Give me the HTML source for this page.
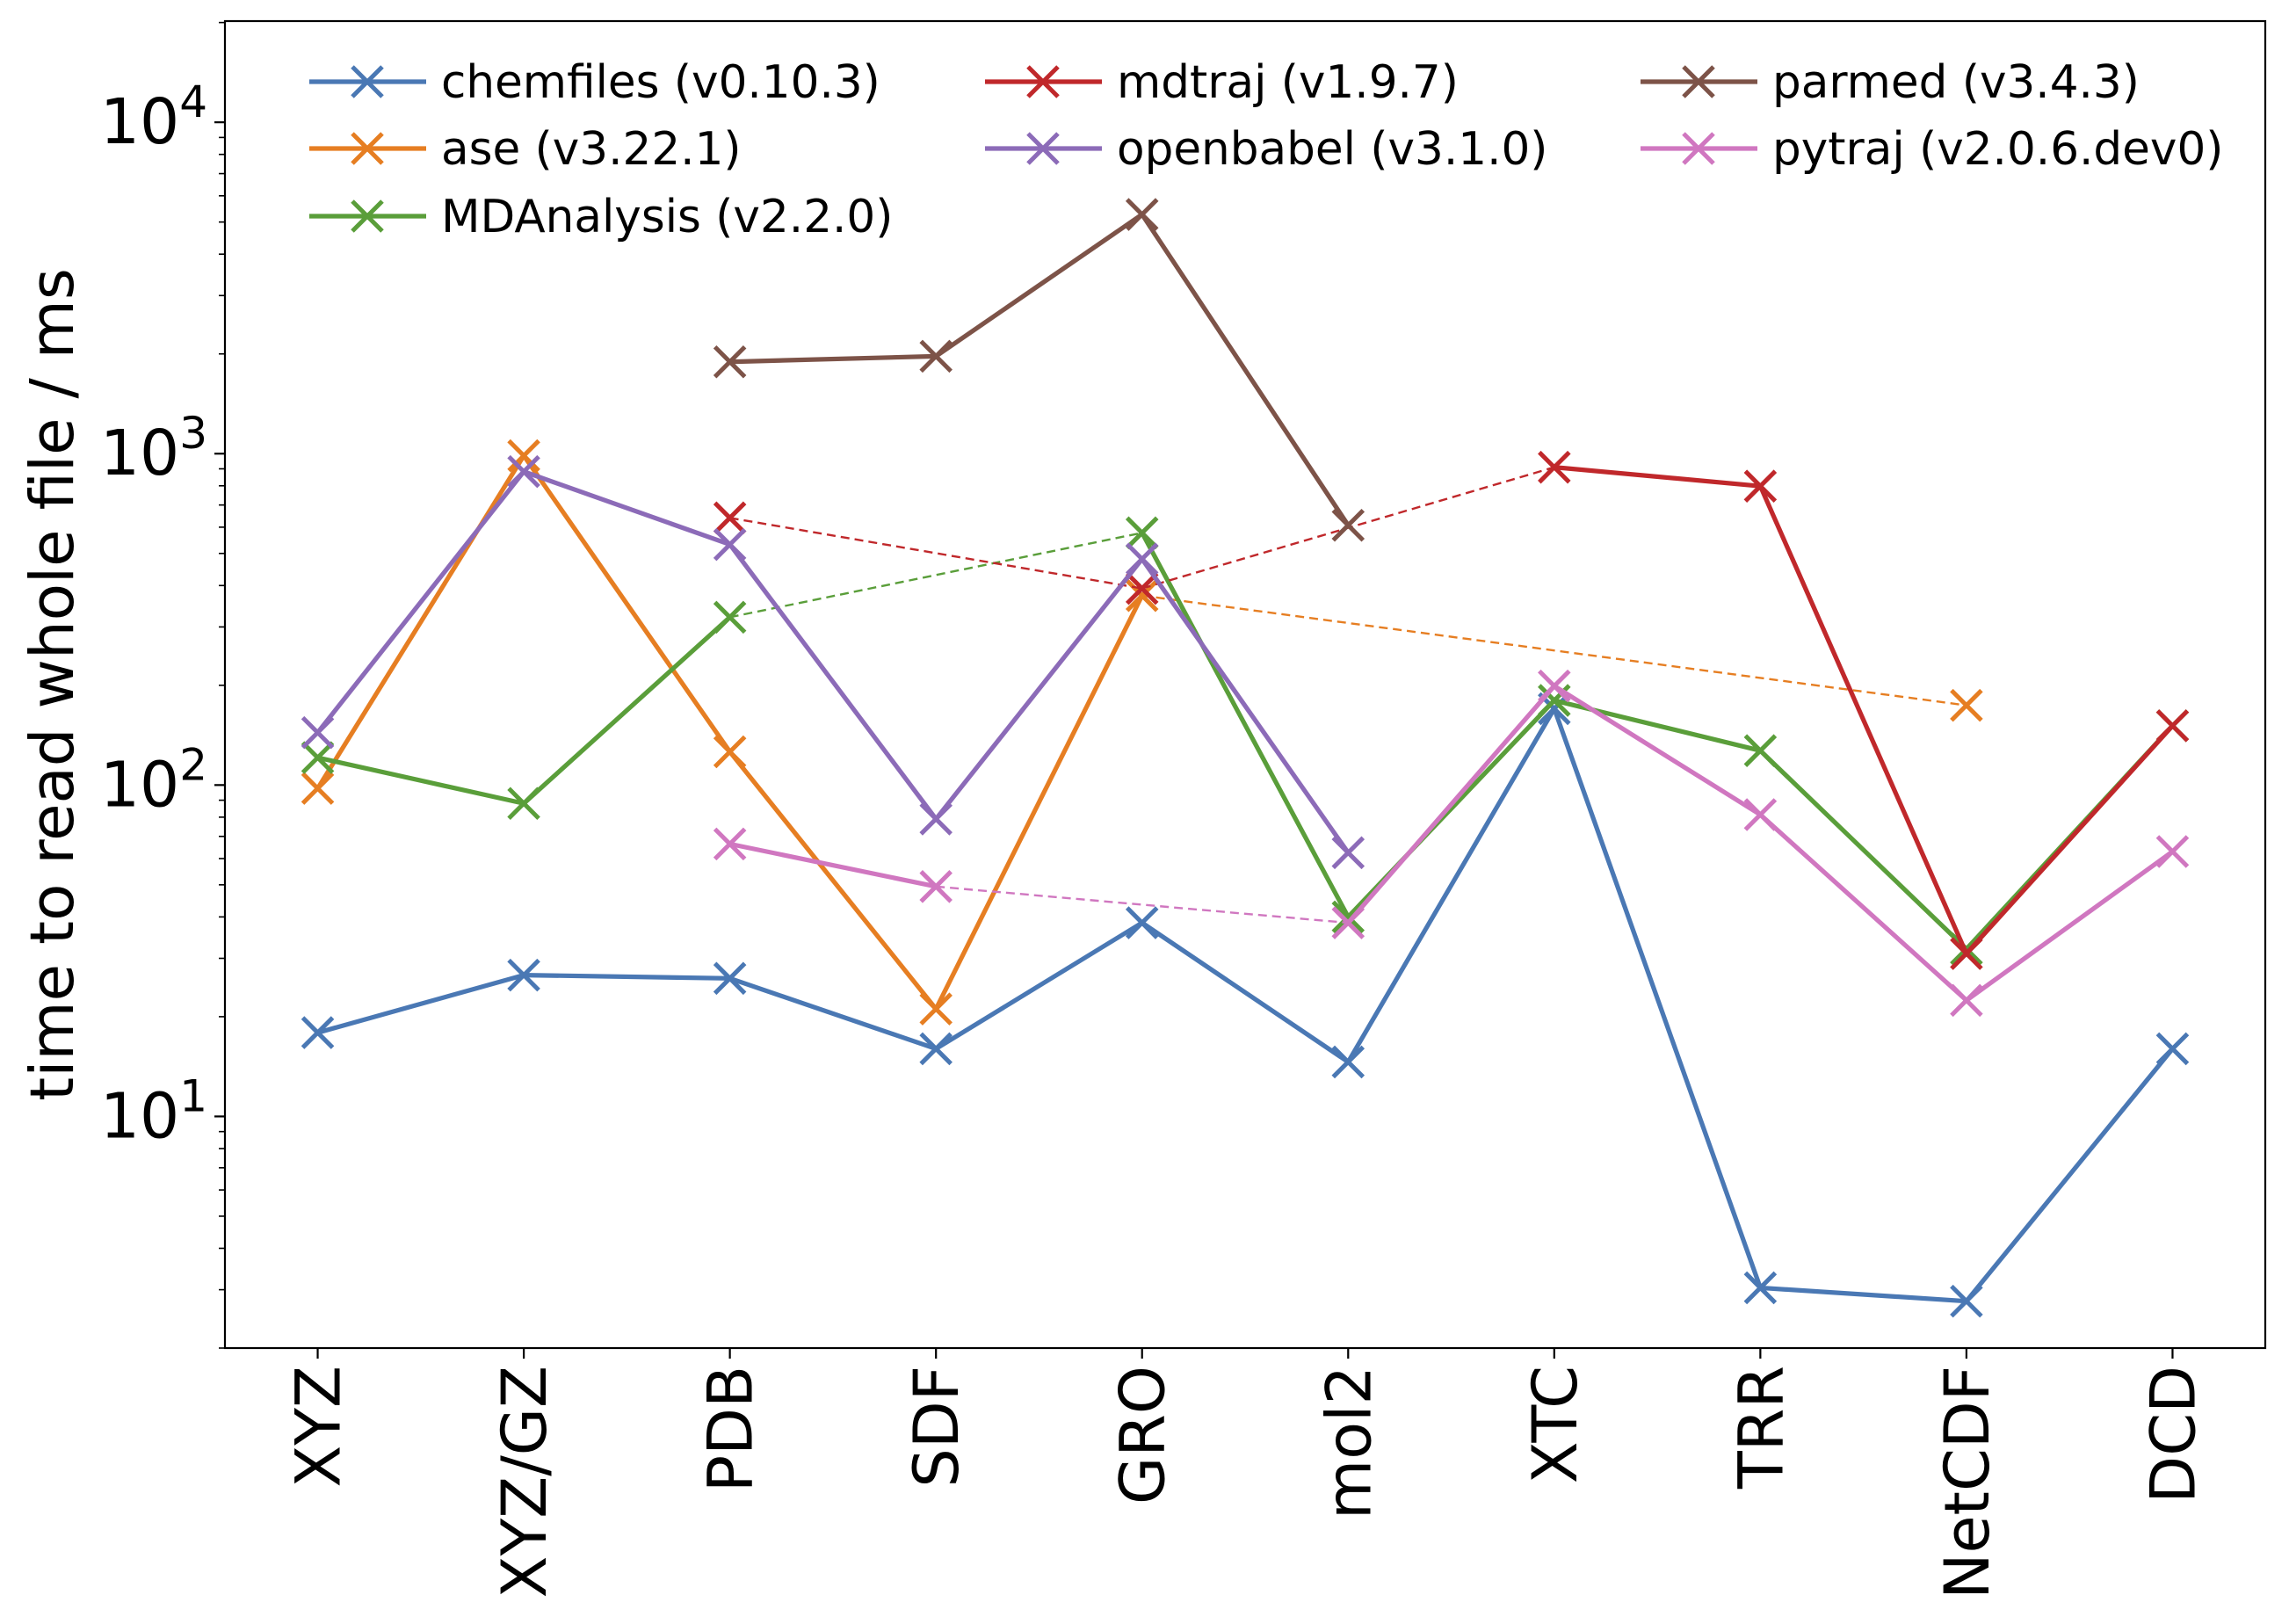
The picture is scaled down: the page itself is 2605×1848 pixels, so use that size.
<!DOCTYPE html>
<html><head><meta charset="utf-8"><style>
html,body{margin:0;padding:0;background:#fff}
svg{display:block;font-family:"DejaVu Sans","Liberation Sans",sans-serif}
</style></head><body>
<svg id="chart" width="2605" height="1848" viewBox="0 0 2605 1848">
<g id="plot"></g>
<g id="axes"></g>
<g id="legend"></g>
</svg>
<script>
const categories = ["XYZ","XYZ/GZ","PDB","SDF","GRO","mol2","XTC","TRR","NetCDF","DCD"];
const seriesNames = ["chemfiles (v0.10.3)","ase (v3.22.1)","MDAnalysis (v2.2.0)","mdtraj (v1.9.7)","openbabel (v3.1.0)","parmed (v3.4.3)","pytraj (v2.0.6.dev0)"];
const chemfiles = [17.9,26.7,26.1,16.0,38.4,14.6,170,3.04,2.77,16.0];
const ase = [97.7,986,126,21.1,373,null,null,null,174,null];
const mdanalysis = [121,88,321,null,577,40,180,127,32,151];
const mdtraj = [null,null,640,null,392,null,910,798,31,151];
const openbabel = [144,883,532,79,481,62.5,null,null,null,null];
const parmed = [null,null,1893,1968,5270,608,null,null,null,null];
const pytraj = [null,null,66.4,49.4,null,38.4,199,81.4,22.4,63];
const yTickExps = [1,2,3,4];

const seriesData = [chemfiles,ase,mdanalysis,mdtraj,openbabel,parmed,pytraj];
const colors = ["#4a78b4","#e67e22","#5a9e3a","#c0282b","#8c6bb8","#7d5348","#d077c0"];
const NS="http://www.w3.org/2000/svg";
const L=256,R=2578,T=24,B=1534;
const xmin=-0.45,xmax=9.45,ymin=Math.log10(2),ymax=Math.log10(20200);
function xs(i){return L+(i-xmin)/(xmax-xmin)*(R-L);}
function ys(v){return B-(Math.log10(v)-ymin)/(ymax-ymin)*(B-T);}
function mk(tag,attrs,parent){const e=document.createElementNS(NS,tag);for(const k in attrs)e.setAttribute(k,attrs[k]);parent.appendChild(e);return e;}
const plot=document.getElementById('plot'),axes=document.getElementById('axes'),legend=document.getElementById('legend');

function drawX(g,x,y,s,c){
  mk('path',{d:`M${x-s},${y-s}L${x+s},${y+s}M${x-s},${y+s}L${x+s},${y-s}`,stroke:c,'stroke-width':5,fill:'none'},g);
}
seriesData.forEach((arr,si)=>{
  const g=mk('g',{},plot);
  
  
  const idx=[];arr.forEach((v,i)=>{if(v!=null)idx.push(i);});
  for(let k=0;k<idx.length-1;k++){
    const a=idx[k],b=idx[k+1];
    const dashed=(b-a)>1;
    const ln=mk('line',{x1:xs(a),y1:ys(arr[a]),x2:xs(b),y2:ys(arr[b]),stroke:colors[si],'stroke-width':dashed?2.4:5.2,'stroke-dasharray':dashed?'10,6':'none','stroke-linecap':'butt'},g);
    
    
  }
  idx.forEach(i=>{
    const m=mk('g',{},g);
    
    
    drawX(m,xs(i),ys(arr[i]),17,colors[si]);
  });
});

const fr=mk('rect',{x:L,y:T,width:R-L,height:B-T,fill:'none',stroke:'#000','stroke-width':2.2},axes);

for(let e=0;e<=4;e++){
  for(let m=1;m<=9;m++){
    const v=m*Math.pow(10,e);
    if(v<2||v>20200)continue;
    const y=ys(v);
    const t=mk('line',{x1:L,x2:L-(m===1?12:7),y1:y,y2:y,stroke:'#000','stroke-width':m===1?2.2:1.6},axes);
    
  }
}
yTickExps.forEach(e=>{
  const y=ys(Math.pow(10,e));
  const tx=mk('text',{x:236,y:y+24,'text-anchor':'end','font-size':71,fill:'#000'},axes);
  
  tx.appendChild(document.createTextNode('10'));
  const sp=mk('tspan',{dy:-30,'font-size':50},tx);sp.textContent=String(e);
});
categories.forEach((c,i)=>{
  const x=xs(i);
  const t=mk('line',{x1:x,x2:x,y1:B,y2:B+12,stroke:'#000','stroke-width':2.2},axes);
  
  const tx=mk('text',{transform:`translate(${x+25},1554) rotate(-90)`,'text-anchor':'end','font-size':70,fill:'#000'},axes);
  
  tx.textContent=c;
});
const yl=mk('text',{transform:`translate(83,779) rotate(-90)`,'text-anchor':'middle','font-size':69,fill:'#000'},axes);

yl.textContent='time to read whole file / ms';

const legX=[352,1121,1867],legY=[93,169,246];
seriesNames.forEach((name,si)=>{
  const col=si<3?0:(si<5?1:2);
  const row=si<3?si:(si<5?si-3:si-5);
  const x=legX[col],y=legY[row];
  const g=mk('g',{},legend);
  
  
  mk('line',{x1:x,x2:x+133,y1:y,y2:y,stroke:colors[si],'stroke-width':5.2},g);
  drawX(g,x+66,y,17,colors[si]);
  const t=mk('text',{x:x+150,y:y+18,'font-size':51.6,fill:'#000'},g);
  t.textContent=name;
});
</script>
</body></html>
